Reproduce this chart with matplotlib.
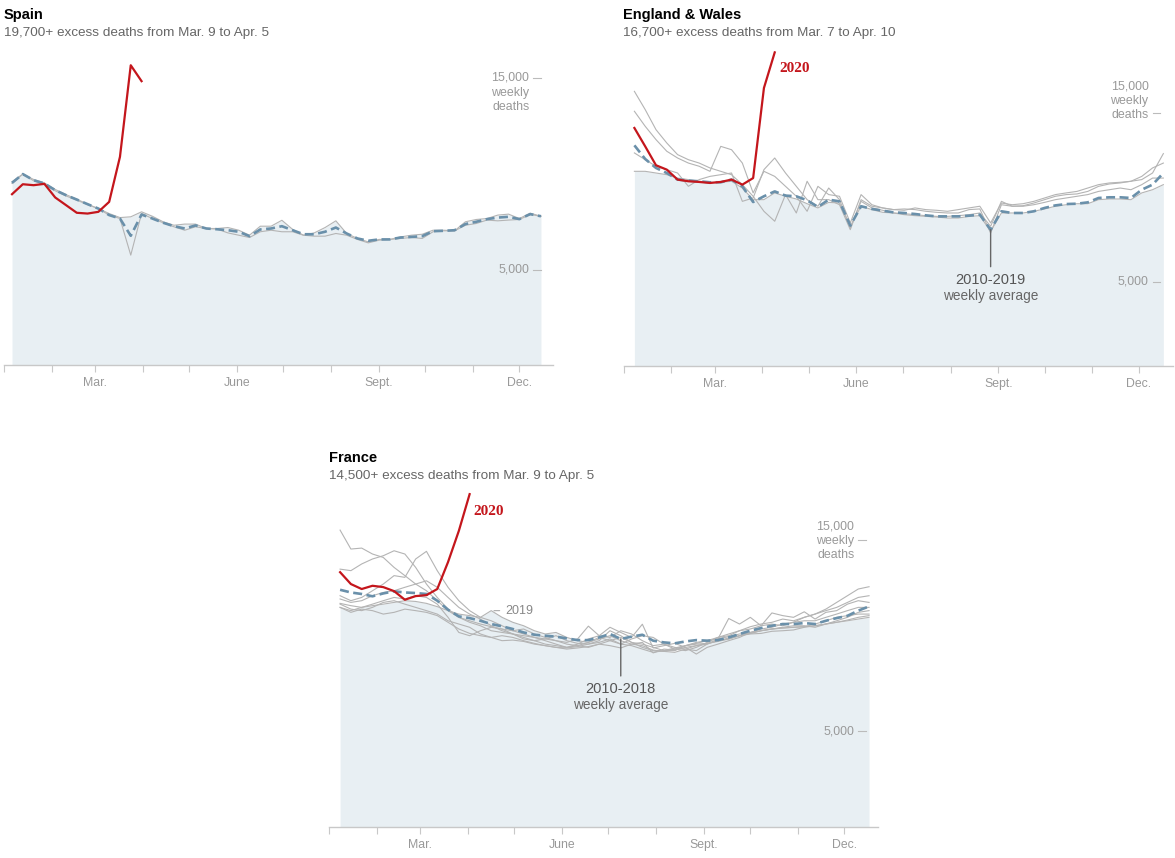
import numpy as np
import matplotlib.pyplot as plt

plt.rcParams['font.family'] = ['Liberation Sans', 'DejaVu Sans']

W, H = 1175, 858

RED = '#c4161c'
BLUE = '#6a90aa'
GREY = '#b4b4b4'
FILL = '#e8eff3'
AXIS = '#c8c8c8'

month_days = [0, 31, 59, 90, 120, 151, 181, 212, 243, 273, 304, 334]
month_labels = ["", "", "Mar.", "", "", "June", "", "", "Sept.", "", "", "Dec."]

# ---- Spain (weekly deaths) ----
spain_avg = [9520, 9980, 9660, 9490, 9140, 8880, 8650, 8410, 8180, 7840,
             7660, 6760, 7870, 7660, 7440, 7260, 7140, 7300, 7140, 7100,
             7050, 6970, 6740, 7090, 7140, 7260, 7050, 6840, 6840, 6970,
             7190, 6880, 6620, 6500, 6570, 6570, 6670, 6700, 6740, 7000,
             7020, 7050, 7370, 7490, 7630, 7710, 7750, 7630, 7890, 7780]
spain_2019 = [9580, 9980, 9700, 9520, 9180, 8910, 8670, 8410, 8180, 7920,
              7710, 7750, 8010, 7780, 7490, 7310, 7370, 7370, 7140, 7140,
              7190, 7050, 6790, 7260, 7260, 7570, 7090, 6790, 6910, 7190,
              7540, 6880, 6620, 6440, 6570, 6570, 6700, 6790, 6840, 7050,
              7050, 7020, 7490, 7610, 7660, 7840, 7890, 7660, 7940, 7780]
spain_2018 = [9490, 9980, 9630, 9450, 9110, 8840, 8620, 8390, 8170, 7840,
              7660, 5750, 7920, 7660, 7440, 7230, 7050, 7230, 7140, 7110,
              6910, 6790, 6670, 6970, 7050, 6970, 6970, 6790, 6740, 6740,
              6880, 6790, 6570, 6390, 6530, 6570, 6620, 6670, 6620, 6970,
              7020, 7020, 7310, 7400, 7580, 7540, 7580, 7610, 7870, 7780]
spain_2020 = [8930, 9450, 9400, 9470, 8760, 8360, 7960, 7920, 8010, 8530,
              10880, 15660, 14830]

# ---- England & Wales ----
eng_avg = [13080, 12270, 11740, 11440, 11050, 10990, 10950, 10890, 10890, 11050,
           10650, 9720, 10060, 10350, 10100, 10060, 9820, 9430, 9860, 9760,
           8320, 9470, 9310, 9210, 9110, 9070, 9010, 8930, 8870, 8870,
           8870, 8910, 8970, 8080, 9170, 9070, 9070, 9170, 9370, 9520,
           9600, 9620, 9700, 9960, 10000, 10000, 9960, 10450, 10750, 11440]
eng_a = [16280, 15200, 14010, 13220, 12530, 12230, 12030, 11740, 11540, 11340,
         10750, 10060, 9170, 8580, 10160, 9070, 10950, 9860, 9860, 9560,
         8080, 9860, 9470, 9370, 9270, 9310, 9270, 9170, 9110, 9070,
         9070, 9270, 9310, 7880, 9560, 9470, 9500, 9660, 9860, 10060,
         10160, 10200, 10350, 10650, 10790, 10850, 10950, 11050, 11440, 12590]
eng_b = [15100, 14210, 13420, 12730, 12330, 12030, 11840, 11540, 13020, 12820,
         12030, 10260, 11540, 11240, 10650, 10060, 9170, 10650, 10160, 10060,
         8480, 10160, 9560, 9370, 9270, 9230, 9370, 9270, 9230, 9170,
         9270, 9370, 9470, 8480, 9660, 9560, 9620, 9760, 9960, 10160,
         10260, 10350, 10550, 10750, 10850, 10890, 10950, 11240, 11740, 12030]
eng_c = [12630, 12230, 11840, 11640, 11440, 10650, 11050, 11240, 11340, 11440,
         9760, 9960, 11640, 12330, 11440, 10650, 9860, 9470, 10550, 9860,
         8180, 9760, 9370, 9230, 9070, 9030, 8970, 8910, 8870, 8870,
         8910, 8970, 9070, 8280, 9760, 9470, 9470, 9560, 9700, 9860,
         9960, 10060, 10160, 10350, 10450, 10550, 10450, 10750, 11140, 11140]
eng_2019 = [11540, 11540, 11440, 11340, 11140, 11050, 10950, 10890, 10890, 10950,
            10550, 9860, 9860, 10260, 10060, 9900, 9620, 9370, 9700, 9660,
            8280, 9470, 9270, 9110, 9070, 8970, 8910, 8870, 8830, 8770,
            8770, 8870, 8910, 7980, 9070, 9070, 9070, 9170, 9310, 9470,
            9560, 9620, 9620, 9860, 9900, 9900, 9860, 10260, 10450, 10750]
eng_2020 = [14110, 13020, 11900, 11640, 11050, 10950, 10910, 10850, 10910, 11050,
            10750, 11140, 16480, 18590]

# ---- France ----
fr_avg = [12400, 12260, 12180, 12060, 12210, 12320, 12260, 12230, 12180, 11830,
          11360, 11010, 10920, 10780, 10610, 10490, 10350, 10170, 10050, 10000,
          9950, 9860, 9770, 9770, 9910, 10090, 9830, 9950, 10050, 9740,
          9650, 9600, 9700, 9770, 9740, 9770, 9910, 10090, 10260, 10400,
          10520, 10610, 10610, 10660, 10610, 10780, 10920, 11040, 11310, 11530]
fr_l1 = [15520, 14530, 14580, 14270, 14090, 13570, 13140, 12700, 12350, 11830,
         11310, 10960, 10700, 10520, 10260, 10170, 10090, 9830, 9740, 9830,
         9740, 9560, 9480, 9390, 9560, 9480, 9360, 9560, 9650, 9100,
         9300, 9250, 9390, 9480, 9560, 9740, 9830, 10000, 10170, 10350,
         10440, 10610, 10700, 10960, 11130, 11390, 11740, 12090, 12440, 12560]
fr_l2 = [13480, 13400, 13750, 14010, 14180, 14440, 14270, 13570, 12700, 12000,
         11390, 10960, 10780, 10610, 10470, 10350, 10260, 10090, 9910, 9830,
         10000, 9740, 9600, 9560, 9740, 10260, 10000, 9650, 9560, 9390,
         9220, 9220, 9480, 9650, 9740, 9910, 10000, 10260, 10470, 10610,
         10700, 10870, 10780, 10960, 11130, 11310, 11480, 11740, 12000, 12090]
fr_l3 = [12090, 11830, 12000, 12350, 12700, 13140, 13050, 14010, 14410, 13400,
         12530, 11830, 11310, 10960, 10780, 10520, 10260, 10350, 10090, 9910,
         9740, 9650, 9830, 10500, 10000, 9910, 10260, 10090, 9740, 9480,
         9560, 9390, 9300, 9220, 9560, 9830, 10900, 10610, 10960, 10520,
         11190, 11050, 10960, 11250, 10870, 11220, 11310, 11650, 11830, 11740]
fr_l4 = [11920, 11740, 11830, 12090, 12260, 12350, 12530, 12700, 12870, 12530,
         12000, 11480, 11130, 10870, 10520, 10260, 10090, 10000, 9910, 9740,
         9560, 9390, 9480, 9650, 9910, 9740, 9560, 9830, 10000, 9910,
         9560, 9300, 9220, 9390, 9650, 9910, 10090, 10260, 10350, 10520,
         10610, 10520, 10700, 10780, 10780, 10960, 11130, 11310, 11480, 11480]
fr_l5 = [11690, 11570, 11480, 11650, 11830, 12000, 11920, 12090, 12000, 11650,
         10960, 10170, 10000, 10260, 10440, 10350, 10090, 9910, 9740, 9560,
         9480, 9390, 9560, 9830, 10000, 10440, 10170, 9910, 10600, 9360,
         9480, 9600, 9390, 9040, 9390, 9560, 9740, 9910, 10170, 10260,
         10350, 10440, 10520, 10520, 10440, 10610, 10780, 10960, 11220, 11310]
fr_l6 = [11650, 11390, 11310, 11480, 11740, 11830, 11650, 11480, 11310, 11130,
         10780, 10610, 10440, 10090, 9910, 9740, 9770, 9700, 9560, 9480,
         9390, 9300, 9360, 9430, 9560, 9740, 9910, 9650, 9390, 9220,
         9180, 9300, 9480, 9600, 9740, 9830, 9950, 10090, 10120, 10260,
         10350, 10400, 10440, 10470, 10610, 10780, 10960, 11050, 11130, 11130]
fr_l7 = [11480, 11220, 11390, 11310, 11130, 11220, 11390, 11310, 11220, 11050,
         10700, 10350, 10120, 10000, 9910, 10000, 9910, 9740, 9600, 9480,
         9390, 9360, 9430, 9560, 9650, 9830, 9560, 9480, 9300, 9130,
         9220, 9360, 9480, 9560, 9600, 9700, 9830, 10000, 10090, 10120,
         10230, 10260, 10300, 10440, 10520, 10610, 10700, 10820, 10960, 11050]
fr_2019 = [11480, 11310, 11480, 11570, 11650, 11740, 11830, 11790, 11690, 11520,
           11310, 11130, 11050, 10960, 11310, 10960, 10700, 10520, 10260, 10090,
           10170, 9910, 9740, 9650, 9830, 10000, 9740, 9560, 9480, 9250,
           9180, 9130, 9300, 9480, 9600, 9740, 9880, 10000, 10120, 10260,
           10350, 10400, 10440, 10470, 10520, 10610, 10700, 10780, 10870, 10960]
fr_2020 = [13320, 12700, 12440, 12610, 12540, 12330, 11880, 12070, 12120, 12440,
           13850, 15480, 17400]


def make_axes(fig, x_left, x_right, y_zero, px_per_death, ymax):
    top = y_zero - ymax * px_per_death
    ax = fig.add_axes([x_left / W, 1 - y_zero / H,
                       (x_right - x_left) / W, (y_zero - top) / H])
    ax.set_xlim(0, 356)
    ax.set_ylim(0, ymax)
    return ax


def draw_panel(ax, first_day, past, base, avg, cur):
    days = first_day + 7 * np.arange(len(avg))
    ax.fill_between(days, 0, base, color=FILL, lw=0, zorder=1)
    for ys in past:
        ax.plot(days, ys, color=GREY, lw=0.8, zorder=2)
    ax.plot(days, avg, color=BLUE, lw=1.9, ls=(0, (3.4, 1.7)), zorder=3)
    ax.plot(days[:len(cur)], cur, color=RED, lw=1.6, zorder=4)

    for s in ['left', 'right', 'top']:
        ax.spines[s].set_visible(False)
    ax.spines['bottom'].set_color(AXIS)
    ax.spines['bottom'].set_linewidth(1)
    ax.set_xticks(month_days)
    ax.set_xticklabels(month_labels)
    ax.tick_params(axis='x', length=5, width=0.8, color=AXIS,
                   labelsize=8.8, labelcolor='#999999', pad=3.5)
    ax.set_yticks([])
    return days


def y_labels(ax, offsets):
    for v in [15000, 5000]:
        ax.plot([343, 348], [v, v], color='#bbbbbb', lw=0.8, zorder=5)
    ax.annotate("5,000", xy=(343, 5000), xytext=(-4, 0), textcoords='offset pixels',
                ha='right', va='center', fontsize=8.9, color='#999999')
    for txt, dy in zip(["15,000", "weekly", "deaths"], offsets):
        ax.annotate(txt, xy=(343, 15000), xytext=(-4, dy), textcoords='offset pixels',
                    ha='right', va='center', fontsize=8.9, color='#999999')


def avg_note(ax, day, val, years):
    ax.annotate("", xy=(day, val), xytext=(0, -37), textcoords='offset pixels',
                arrowprops=dict(arrowstyle='-', color='#666666', lw=1,
                                shrinkA=0, shrinkB=0), zorder=6)
    ax.annotate(years, xy=(day, val), xytext=(0, -50), textcoords='offset pixels',
                ha='center', va='center', fontsize=10.5, color='#555555')
    ax.annotate("weekly average", xy=(day, val), xytext=(0, -66),
                textcoords='offset pixels', ha='center', va='center',
                fontsize=9.8, color='#666666')


def titles(x, y, title, sub):
    fig.text(x / W, 1 - y / H, title, fontsize=10.5, fontweight='bold',
             color='#000000', va='center', ha='left')
    fig.text(x / W, 1 - (y + 18) / H, sub, fontsize=9.7, color='#666666',
             va='center', ha='left')


fig = plt.figure(figsize=(W / 100, H / 100), dpi=100)

# Spain
ax1 = make_axes(fig, 4.3, 553.3, 365.3, 191.6 / 10000, 17000)
draw_panel(ax1, 5, [spain_2019, spain_2018], spain_2019, spain_avg, spain_2020)
y_labels(ax1, [0, -15, -29])
titles(4, 15, "Spain", "19,700+ excess deaths from Mar. 9 to Apr. 5")

# England & Wales
ax2 = make_axes(fig, 623.6, 1172.6, 366, 168.7 / 10000, 19500)
d2 = draw_panel(ax2, 7, [eng_a, eng_b, eng_c, eng_2019], eng_2019, eng_avg, eng_2020)
y_labels(ax2, [26, 12, -2])
avg_note(ax2, d2[33], eng_avg[33], "2010-2019")
ax2.annotate("2020", xy=(d2[len(eng_2020) - 1], eng_2020[-1]), xytext=(5, -16),
             textcoords='offset pixels', ha='left', va='center',
             fontsize=11, fontweight='bold', color=RED,
             family=['Liberation Serif', 'DejaVu Serif'])
titles(623, 15, "England & Wales", "16,700+ excess deaths from Mar. 7 to Apr. 10")

# France
ax3 = make_axes(fig, 329.3, 878.3, 827, 191.3 / 10000, 18000)
d3 = draw_panel(ax3, 7, [fr_l1, fr_l2, fr_l3, fr_l4, fr_l5, fr_l6, fr_l7, fr_2019],
                fr_2019, fr_avg, fr_2020)
y_labels(ax3, [14, -1, -15])
avg_note(ax3, d3[26], fr_avg[26], "2010-2018")
ax3.annotate("2020", xy=(d3[len(fr_2020) - 1], fr_2020[-1]), xytext=(4, -17),
             textcoords='offset pixels', ha='left', va='center',
             fontsize=11, fontweight='bold', color=RED,
             family=['Liberation Serif', 'DejaVu Serif'])
ax3.annotate("2019", xy=(d3[14], fr_2019[14]), xytext=(14, 0),
             textcoords='offset pixels', ha='left', va='center',
             fontsize=9, color='#888888',
             arrowprops=dict(arrowstyle='-', color='#aaaaaa', lw=0.8,
                             shrinkA=2, shrinkB=2))
titles(329, 458, "France", "14,500+ excess deaths from Mar. 9 to Apr. 5")

fig.savefig('out.png', dpi=100)
